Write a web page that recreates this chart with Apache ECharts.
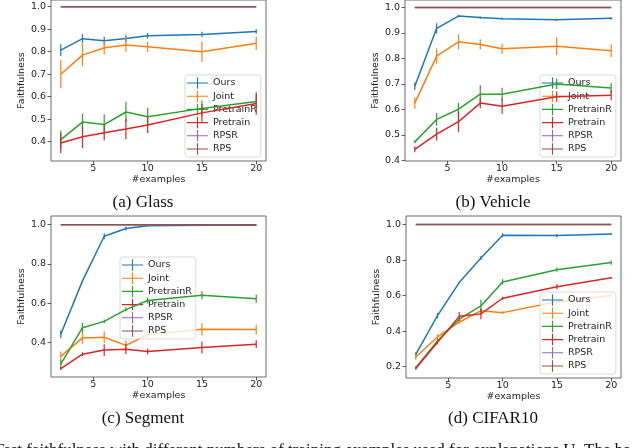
<!DOCTYPE html>
<html>
<head>
<meta charset="utf-8">
<script src="https://cdn.jsdelivr.net/npm/echarts@6/dist/echarts.min.js"></script>
<style>
  html, body { margin: 0; padding: 0; background: #fff; }
  #main { width: 640px; height: 448px; }
</style>
</head>
<body>
<div id="main"></div>
<script>
// shared x values and method names
const xValues = [2, 4, 6, 8, 10, 15, 20];
const methods = ['Ours', 'Joint', 'PretrainR', 'Pretrain', 'RPSR', 'RPS'];
const methodColors = ['#1f77b4', '#ff7f0e', '#2ca02c', '#d62728', '#9467bd', '#8c564b'];
const xTicks = [5, 10, 15, 20];
const captions = ['(a) Glass', '(b) Vehicle', '(c) Segment', '(d) CIFAR10'];

// RPS / RPSR are flat at 1.0 everywhere
const rpsValues = [1, 1, 1, 1, 1, 1, 1];
const rpsErr = [0, 0, 0, 0, 0, 0, 0];

// (a) Glass
const glassOurs = [0.807, 0.858, 0.849, 0.859, 0.871, 0.877, 0.890];
const glassOursErr = [0.026, 0.02, 0.018, 0.017, 0.012, 0.012, 0.01];
const glassJoint = [0.700, 0.785, 0.818, 0.830, 0.822, 0.800, 0.838];
const glassJointErr = [0.063, 0.05, 0.03, 0.03, 0.022, 0.045, 0.03];
const glassPretrainR = [0.409, 0.487, 0.476, 0.532, 0.511, 0.548, 0.579];
const glassPretrainRErr = [0.04, 0.038, 0.045, 0.045, 0.04, 0.035, 0.03];
const glassPretrain = [0.394, 0.422, 0.440, 0.456, 0.474, 0.528, 0.570];
const glassPretrainErr = [0.045, 0.05, 0.035, 0.045, 0.035, 0.04, 0.05];
const glassYTicks = [0.4, 0.5, 0.6, 0.7, 0.8, 0.9, 1.0];

// (b) Vehicle
const vehOurs = [0.691, 0.918, 0.966, 0.960, 0.956, 0.952, 0.957];
const vehOursErr = [0.015, 0.02, 0.005, 0.004, 0.004, 0.004, 0.005];
const vehJoint = [0.625, 0.809, 0.865, 0.855, 0.838, 0.848, 0.830];
const vehJointErr = [0.022, 0.03, 0.03, 0.02, 0.02, 0.035, 0.025];
const vehPretrainR = [0.473, 0.561, 0.601, 0.660, 0.660, 0.700, 0.684];
const vehPretrainRErr = [0.005, 0.025, 0.025, 0.035, 0.025, 0.02, 0.02];
const vehPretrain = [0.444, 0.503, 0.552, 0.625, 0.613, 0.650, 0.656];
const vehPretrainErr = [0.012, 0.025, 0.04, 0.02, 0.03, 0.02, 0.02];
const vehYTicks = [0.4, 0.5, 0.6, 0.7, 0.8, 0.9, 1.0];

// (c) Segment
const segOurs = [0.442, 0.714, 0.941, 0.980, 0.995, 0.997, 0.997];
const segOursErr = [0.02, 0.005, 0.015, 0.01, 0.005, 0.003, 0.003];
const segJoint = [0.330, 0.424, 0.427, 0.386, 0.440, 0.468, 0.466];
const segJointErr = [0.025, 0.03, 0.03, 0.025, 0.02, 0.03, 0.025];
const segPretrainR = [0.290, 0.476, 0.508, 0.568, 0.614, 0.641, 0.623];
const segPretrainRErr = [0.02, 0.025, 0.01, 0.01, 0.015, 0.02, 0.02];
const segPretrain = [0.268, 0.341, 0.362, 0.366, 0.355, 0.375, 0.392];
const segPretrainErr = [0.008, 0.01, 0.03, 0.025, 0.015, 0.03, 0.02];
const segYTicks = [0.4, 0.6, 0.8, 1.0];

// (d) CIFAR10
const cifOurs = [0.269, 0.487, 0.673, 0.812, 0.940, 0.938, 0.947];
const cifOursErr = [0.01, 0.015, 0.005, 0.012, 0.012, 0.01, 0.006];
const cifJoint = [0.254, 0.367, 0.450, 0.515, 0.504, 0.565, 0.600];
const cifJointErr = [0.015, 0.015, 0.01, 0.01, 0.008, 0.01, 0.01];
const cifPretrainR = [0.194, 0.345, 0.467, 0.542, 0.677, 0.746, 0.786];
const cifPretrainRErr = [0.008, 0.01, 0.01, 0.035, 0.015, 0.012, 0.012];
const cifPretrain = [0.190, 0.337, 0.483, 0.497, 0.585, 0.650, 0.700];
const cifPretrainErr = [0.008, 0.012, 0.025, 0.03, 0.008, 0.015, 0.005];
const cifYTicks = [0.2, 0.4, 0.6, 0.8, 1.0];

// layout of the four panels (positions only)
const panels = [
    { grid: { left: 51, top: 0, width: 215, height: 161 }, yMin: 0.314, yMax: 1.030, yTicks: glassYTicks,
      legend: { left: 185, top: 75 }, caption: [143, 203],
      means: [glassOurs, glassJoint, glassPretrainR, glassPretrain, rpsValues, rpsValues],
      errs: [glassOursErr, glassJointErr, glassPretrainRErr, glassPretrainErr, rpsErr, rpsErr] },
    { grid: { left: 405, top: 0, width: 216, height: 161 }, yMin: 0.398, yMax: 1.029, yTicks: vehYTicks,
      legend: { left: 540, top: 75 }, caption: [493, 203],
      means: [vehOurs, vehJoint, vehPretrainR, vehPretrain, rpsValues, rpsValues],
      errs: [vehOursErr, vehJointErr, vehPretrainRErr, vehPretrainErr, rpsErr, rpsErr] },
    { grid: { left: 51, top: 216, width: 215, height: 161 }, yMin: 0.225, yMax: 1.044, yTicks: segYTicks,
      legend: { left: 120, top: 257 }, caption: [143, 419],
      means: [segOurs, segJoint, segPretrainR, segPretrain, rpsValues, rpsValues],
      errs: [segOursErr, segJointErr, segPretrainRErr, segPretrainErr, rpsErr, rpsErr] },
    { grid: { left: 406, top: 216, width: 215, height: 162 }, yMin: 0.136, yMax: 1.048, yTicks: cifYTicks,
      legend: { left: 540, top: 292 }, caption: [493, 419],
      means: [cifOurs, cifJoint, cifPretrainR, cifPretrain, rpsValues, rpsValues],
      errs: [cifOursErr, cifJointErr, cifPretrainRErr, cifPretrainErr, rpsErr, rpsErr] }
];

const tickFont = { fontFamily: 'DejaVu Sans', fontSize: 9.5, color: '#222' };
// legend icon: short line crossed by an errorbar
const crossIcon = 'path://M0,5.4h22v1.2h-22z M10.4,0h1.2v12h-1.2z';

var chartDom = document.getElementById('main');
var myChart = echarts.init(chartDom, null, { renderer: 'canvas' });

var grids = [], xAxes = [], yAxes = [], series = [], legends = [], graphics = [];

panels.forEach((p, k) => {
    grids.push(Object.assign({ show: true, borderColor: '#444', borderWidth: 0.8, backgroundColor: 'transparent' }, p.grid));

    xAxes.push({
        type: 'value', gridIndex: k, min: 1.1, max: 20.9,
        name: '#examples', nameLocation: 'middle', nameGap: 13,
        nameTextStyle: tickFont,
        axisLine: { show: false },
        axisTick: { show: true, inside: false, length: 3.5, lineStyle: { color: '#333', width: 0.8 }, customValues: xTicks },
        axisLabel: Object.assign({ margin: 3, customValues: xTicks }, tickFont),
        splitLine: { show: false }
    });

    yAxes.push({
        type: 'value', gridIndex: k, min: p.yMin, max: p.yMax,
        name: 'Faithfulness', nameLocation: 'middle', nameGap: 17,
        nameTextStyle: tickFont,
        axisLine: { show: false },
        axisTick: { show: true, inside: false, length: 3.5, lineStyle: { color: '#333', width: 0.8 }, customValues: p.yTicks },
        axisLabel: Object.assign({ margin: 5, customValues: p.yTicks, formatter: v => v.toFixed(1) }, tickFont),
        splitLine: { show: false }
    });

    methods.forEach((m, i) => {
        const mean = p.means[i];
        const err = p.errs[i];
        series.push({
            name: m, type: 'line', xAxisIndex: k, yAxisIndex: k,
            data: xValues.map((x, j) => [x, mean[j]]),
            showSymbol: false, symbol: 'none', silent: true,
            color: methodColors[i],
            lineStyle: { width: 1.5, color: methodColors[i] },
            z: 2 + i
        });
        // vertical error bars
        series.push({
            type: 'custom', xAxisIndex: k, yAxisIndex: k, silent: true,
            data: xValues.map((x, j) => [x, mean[j], err[j]]),
            encode: { x: 0, y: 1 },
            z: 2 + i,
            renderItem: function (params, api) {
                const hi = api.coord([api.value(0), api.value(1) + api.value(2)]);
                const lo = api.coord([api.value(0), api.value(1) - api.value(2)]);
                return {
                    type: 'line',
                    shape: { x1: hi[0], y1: hi[1], x2: lo[0], y2: lo[1] },
                    style: { stroke: methodColors[i], lineWidth: 1.2 }
                };
            }
        });
    });

    legends.push({
        orient: 'vertical', left: p.legend.left, top: p.legend.top,
        data: methods, icon: crossIcon, itemWidth: 21, itemHeight: 12, itemGap: 1.2, itemTextGap: 6,
        selectedMode: false,
        backgroundColor: 'rgba(255,255,255,0.8)', borderColor: '#d0d0d0', borderWidth: 0.8, borderRadius: 3,
        padding: [2, 4, 2, 2],
        textStyle: { fontFamily: 'DejaVu Sans', fontSize: 9.5, color: '#222', lineHeight: 12 }
    });

    graphics.push({
        type: 'text', x: p.caption[0], y: p.caption[1],
        style: { text: captions[k], font: '17px "Liberation Serif"', fill: '#111', textAlign: 'center', textVerticalAlign: 'middle' }
    });
});

// cut-off figure caption at the very bottom
graphics.push({
    type: 'text', x: -6, y: 442,
    style: { text: 'Test faithfulness with different numbers of training examples used for explanations U. The ba',
             font: '17px "Liberation Serif"', fill: '#111', textVerticalAlign: 'top' }
});

var option = {
    animation: false,
    backgroundColor: '#fff',
    grid: grids,
    xAxis: xAxes,
    yAxis: yAxes,
    legend: legends,
    series: series,
    graphic: graphics
};

myChart.setOption(option);
</script>
</body>
</html>
